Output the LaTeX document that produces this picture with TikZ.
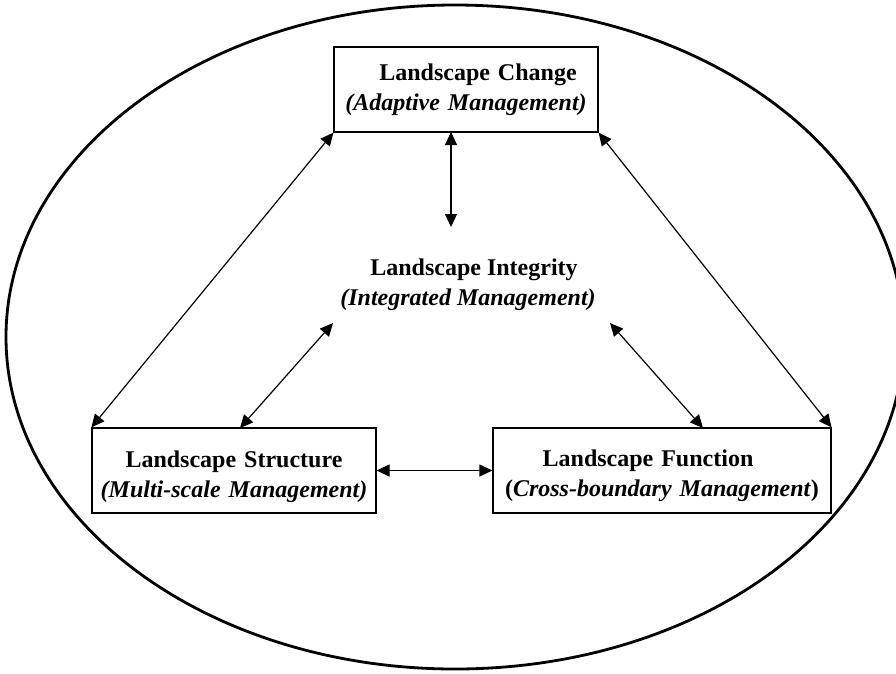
\documentclass[tikz,border=0pt]{standalone}
\usepackage{fontspec}
\setmainfont{Liberation Serif}
\usetikzlibrary{arrows.meta}
\tikzset{
	box/.style={draw, line width=1.2pt, align=center, inner sep=0pt, minimum height=85pt, font=\fontsize{24}{30}\selectfont\bfseries},
	link/.style={{Triangle[length=13pt,width=12pt]}-{Triangle[length=13pt,width=12pt]}, line width=1.2pt}
}

\begin{document}
\begin{tikzpicture}[x=1pt,y=-1pt]
	\useasboundingbox (0,0) rectangle (896,673);
	% outer ring
	\draw [line width=2.8pt] (455,337) ellipse [x radius=449pt, y radius=332pt];
	% the four parts
	\node [box, text width=264pt] (change) at (466,89.5) {\rule{24pt}{0pt}Landscape Change\\ \textit{(Adaptive Management)}};
	\node [box, text width=284pt] (structure) at (234,470.5) {\rule{0pt}{29pt}Landscape Structure\\ \textit{(Multi-scale Management)}};
	\node [box, text width=338pt] (function) at (662,470.5) {\rule{0pt}{27pt}Landscape Function\rule{28pt}{0pt}\\ (\textit{Cross-boundary Management})};
	\node [align=center, font=\fontsize{24}{30}\selectfont\bfseries] (integrity) at (468,285) {\rule{12pt}{0pt}Landscape Integrity\\ \textit{(Integrated Management)}};
	% arrow ends near the middle text
	\coordinate (change-foot) at (451,132);
	\coordinate (integrity-top) at (451,227);
	\coordinate (integrity-left) at (333,323);
	\coordinate (integrity-right) at (610,323);
	\coordinate (structure-top) at (240,428);
	\coordinate (function-top) at (703,428);
	% links
	\draw [link] (change.south west) -- (structure.north west);
	\draw [link] (change.south east) -- (function.north east);
	\draw [link] (change-foot) -- (integrity-top);
	\draw [link] (integrity-left) -- (structure-top);
	\draw [link] (integrity-right) -- (function-top);
	\draw [link] (structure.east) -- (function.west);
\end{tikzpicture}
\end{document}
